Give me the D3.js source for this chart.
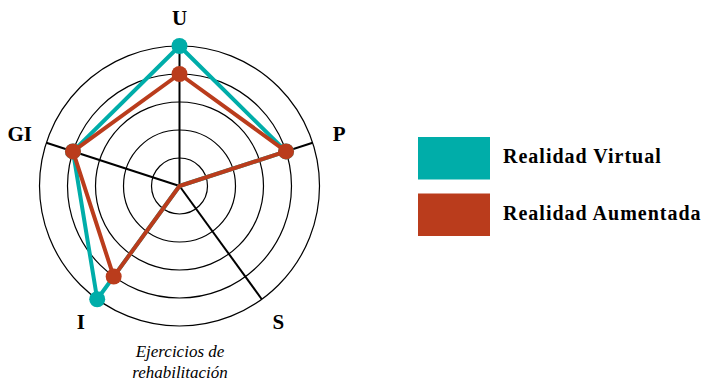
<!DOCTYPE html>
<html><head><meta charset="utf-8">
<script src="https://cdn.jsdelivr.net/npm/d3@7"></script>
<style>body{margin:0;background:#fff}svg{display:block}</style>
</head><body>
<svg id="c" width="705" height="385"></svg>
<script>
const axesLabels = ["U", "P", "S", "I", "GI"];
const virtualValues = [5, 4, 0, 5, 4];
const aumentadaValues = [4, 4, 0, 4, 4];
const seriesNames = ["Realidad Virtual", "Realidad Aumentada"];
const seriesColors = ["#00ADA9", "#BA3C1C"];
const ringLevels = [1, 2, 3, 4, 5];
const captionLines = ["Ejercicios de", "rehabilitación"];

const svg = d3.select("#c");
const cx = 179.5, cy = 186, R = 140;
const r = d3.scaleLinear().domain([0, 5]).range([0, R]);
const ang = d3.scaleLinear().domain([0, axesLabels.length]).range([-Math.PI/2, 1.5*Math.PI]);
const pt = (i, v) => [cx + r(v)*Math.cos(ang(i)), cy + r(v)*Math.sin(ang(i))];
const serif = "'Liberation Serif', 'DejaVu Serif', serif";

const g = svg.append("g");
g.selectAll("circle.ring").data(ringLevels).join("circle")
  .attr("cx", cx).attr("cy", cy).attr("r", d => r(d))
  .attr("fill", "none").attr("stroke", "#000").attr("stroke-width", 1.2);

g.selectAll("line.axis").data(axesLabels).join("line")
  .attr("x1", cx).attr("y1", cy)
  .attr("x2", (d, i) => pt(i, 5)[0]).attr("y2", (d, i) => pt(i, 5)[1])
  .attr("stroke", "#000").attr("stroke-width", 2);

g.selectAll("text.lab").data(axesLabels).join("text")
  .attr("x", (d, i) => cx + 168*Math.cos(ang(i)))
  .attr("y", (d, i) => cy + 168*Math.sin(ang(i)))
  .attr("text-anchor", "middle").attr("dominant-baseline", "central")
  .attr("font-family", serif).attr("font-weight", "bold").attr("font-size", 21)
  .text(d => d);

const line = d3.line().curve(d3.curveLinearClosed);
[virtualValues, aumentadaValues].forEach((vals, s) => {
  const pts = vals.map((v, i) => pt(i, v));
  g.append("path").attr("d", line(pts)).attr("fill", "none")
    .attr("stroke", seriesColors[s]).attr("stroke-width", 4).attr("stroke-linejoin", "round");
  g.selectAll(null).data(vals.map((v, i) => ({v, i})).filter(d => d.v > 0)).join("circle")
    .attr("cx", d => pt(d.i, d.v)[0]).attr("cy", d => pt(d.i, d.v)[1])
    .attr("r", 8).attr("fill", seriesColors[s]);
});

svg.selectAll("text.cap").data(captionLines).join("text")
  .attr("x", 180).attr("y", (d, i) => 357 + i*21)
  .attr("text-anchor", "middle").attr("font-family", serif)
  .attr("font-style", "italic").attr("font-size", 17).text(d => d);

const leg = svg.append("g");
seriesNames.forEach((n, i) => {
  leg.append("rect").attr("x", 418).attr("y", 137 + i*56.5).attr("width", 72).attr("height", 42.5)
    .attr("fill", seriesColors[i]);
  leg.append("text").attr("x", 503).attr("y", 163 + i*57).attr("font-family", serif)
    .attr("font-weight", "bold").attr("font-size", 20).attr("letter-spacing", 1).text(n);
});
</script>
</body></html>
